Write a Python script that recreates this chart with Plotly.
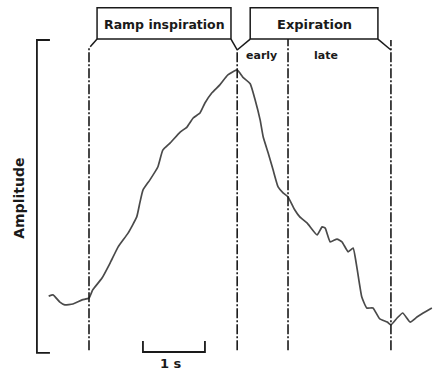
import plotly.graph_objects as go

# Trace: time (s) relative to start of ramp inspiration, amplitude (arbitrary units)
time_s = [-0.65, -0.58, -0.47, -0.39, -0.26, -0.11, 0.00, 0.06, 0.21, 0.34, 0.47, 0.63,
          0.77, 0.82, 0.87, 0.98, 1.11, 1.19, 1.31, 1.47, 1.58, 1.68, 1.79, 1.87, 1.98,
          2.11, 2.24, 2.39, 2.48, 2.60, 2.68, 2.76, 2.81, 2.89, 2.97, 3.05, 3.13, 3.21,
          3.32, 3.40, 3.52, 3.68, 3.76, 3.81, 3.89, 4.00, 4.08, 4.18, 4.26, 4.32, 4.40,
          4.48, 4.58, 4.69, 4.81, 4.87, 4.97, 5.06, 5.18, 5.29, 5.39, 5.53]
amplitude = [17.9, 18.3, 16.0, 15.1, 15.4, 16.7, 17.3, 19.9, 23.7, 28.5, 33.7, 38.1,
             43.3, 47.8, 51.9, 55.1, 59.3, 64.7, 67.0, 70.5, 72.1, 75.0, 76.6, 79.8, 83.0,
             85.6, 88.8, 90.4, 88.1, 86.0, 80.8, 74.4, 68.9, 63.8, 58.3, 52.9, 51.0, 49.7,
             45.5, 43.3, 41.3, 37.5, 40.1, 39.7, 35.3, 36.2, 35.3, 32.1, 33.3, 27.2, 17.6,
             14.1, 14.1, 10.6, 9.6, 8.7, 10.9, 12.5, 9.6, 11.2, 12.5, 14.1]

# Phase boundaries (s): inspiration start, inspiration end, early/late split, expiration end
phase_bounds = [0.0, 2.39, 3.21, 4.87]
phase_labels = ["Ramp inspiration", "Expiration"]
subphase_labels = ["early", "late"]
scale_bar_start = 0.87
scale_bar_len = 1.0
scale_bar_label = "1 s"
axis_label = "Amplitude"

X_RANGE = [-89 / 62, 344 / 62]
Y_RANGE = [-24 / 3.12, 352 / 3.12]

fig = go.Figure()

fig.add_trace(go.Scatter(x=time_s, y=amplitude, mode="lines",
                         line=dict(color="#4a4a4a", width=1.7, shape="spline", smoothing=0.4),
                         hoverinfo="skip", showlegend=False))

BLACK = "#1a1a1a"
dash = "10px,2px,2px,2px"
shapes = []

box_top, box_bot = 110.3, 100.3
joint_y = 96.8
bottom_y = 0.6

# vertical phase lines
tops = [97.8, joint_y, 100.3, 100.0]
for t, top in zip(phase_bounds, tops):
    shapes.append(dict(type="line", x0=t, x1=t, y0=bottom_y, y1=top,
                       line=dict(color=BLACK, width=1.6, dash=dash)))

# phase brackets (boxes with slanted legs to phase lines)
insp_x0, insp_x1 = phase_bounds[0] + 0.13, phase_bounds[1] - 0.10
exp_x0, exp_x1 = phase_bounds[1] + 0.21, phase_bounds[3] - 0.21
for x0, x1 in [(insp_x0, insp_x1), (exp_x0, exp_x1)]:
    shapes.append(dict(type="rect", x0=x0, x1=x1, y0=box_bot, y1=box_top,
                       line=dict(color=BLACK, width=1.5)))
legs = [(insp_x0, phase_bounds[0] + 0.02, 97.8),
        (insp_x1, phase_bounds[1], joint_y),
        (exp_x0, phase_bounds[1], joint_y),
        (exp_x1, phase_bounds[3], joint_y)]
for xa, xb, yb in legs:
    shapes.append(dict(type="line", x0=xa, x1=xb, y0=box_bot, y1=yb,
                       line=dict(color=BLACK, width=1.5)))

# amplitude bracket
bx, bx2 = -0.84, -0.63
shapes.append(dict(type="path", path=f"M {bx2},100 L {bx},100 L {bx},-0.3 L {bx2},-0.3",
                   line=dict(color=BLACK, width=1.8)))

# scale bar
sb0, sb1 = scale_bar_start, scale_bar_start + scale_bar_len
shapes.append(dict(type="path", path=f"M {sb0},3.5 L {sb0},0 L {sb1},0 L {sb1},3.5",
                   line=dict(color=BLACK, width=1.8)))

fig.update_layout(shapes=shapes)

FONT = "DejaVu Sans, Verdana, sans-serif"
ann = []
ann.append(dict(x=(insp_x0 + insp_x1) / 2, y=(box_top + box_bot) / 2 - 0.3,
                text=f"<b>{phase_labels[0]}</b>", showarrow=False,
                font=dict(family=FONT, size=12.5, color=BLACK)))
ann.append(dict(x=(exp_x0 + exp_x1) / 2, y=(box_top + box_bot) / 2 - 0.3,
                text=f"<b>{phase_labels[1]}</b>", showarrow=False,
                font=dict(family=FONT, size=13, color=BLACK)))
ann.append(dict(x=(phase_bounds[1] + phase_bounds[2]) / 2 - 0.02, y=94.9,
                text=f"<b>{subphase_labels[0]}</b>", showarrow=False,
                font=dict(family=FONT, size=11, color=BLACK)))
ann.append(dict(x=(phase_bounds[2] + phase_bounds[3]) / 2 - 0.22, y=94.9,
                text=f"<b>{subphase_labels[1]}</b>", showarrow=False,
                font=dict(family=FONT, size=11, color=BLACK)))
ann.append(dict(x=-1.13, y=49.4, text=f"<b>{axis_label}</b>", textangle=-90,
                showarrow=False, font=dict(family=FONT, size=14, color=BLACK)))
ann.append(dict(x=(sb0 + sb1) / 2 - 0.05, y=-3.6, text=f"<b>{scale_bar_label}</b>",
                showarrow=False, font=dict(family=FONT, size=13, color=BLACK)))

fig.update_layout(
    annotations=ann,
    width=433, height=376, autosize=False,
    margin=dict(l=0, r=0, t=0, b=0, pad=0),
    paper_bgcolor="white", plot_bgcolor="white",
    xaxis=dict(range=X_RANGE, visible=False, fixedrange=True),
    yaxis=dict(range=Y_RANGE, visible=False, fixedrange=True),
    showlegend=False,
)

fig.write_html("out.html", config={"displayModeBar": False},
               post_script="document.body.style.margin='0';document.body.style.padding='0';"
                           "document.documentElement.style.overflow='hidden';")
